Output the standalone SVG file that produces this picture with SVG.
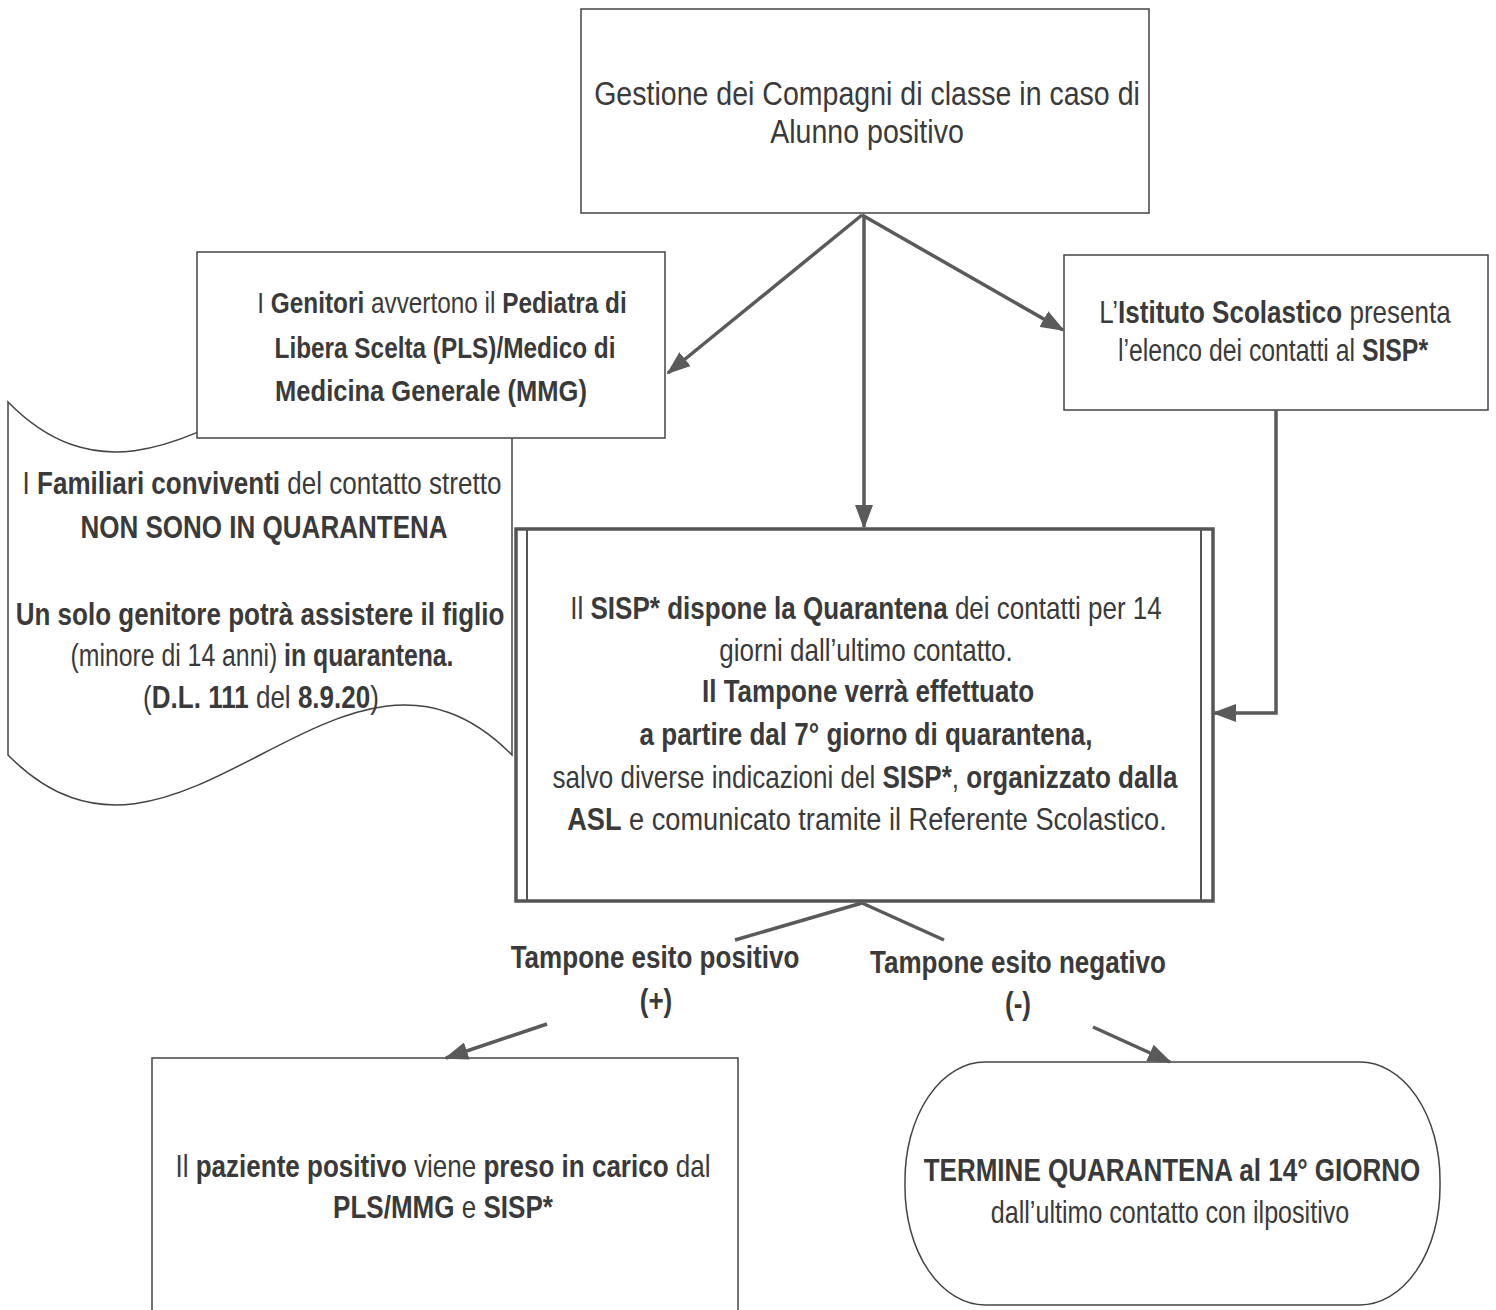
<svg xmlns="http://www.w3.org/2000/svg" width="1496" height="1310" viewBox="0 0 1496 1310">
<style>
.box{fill:#fff;stroke:#444;stroke-width:1.5}
.t{font-family:"Liberation Sans",Arial,sans-serif;font-size:31px;fill:#3a3a3a;text-anchor:middle}
.s{font-size:29px}
.l{font-size:34px}
.b{font-weight:bold}
.con{fill:none;stroke:#5a5a5a;stroke-width:3.5}
</style>
<defs>
<marker id="ah" markerUnits="userSpaceOnUse" markerWidth="24" markerHeight="18" refX="22" refY="9" orient="auto">
<path d="M0,0 L24,9 L0,18 Z" fill="#5a5a5a"/>
</marker>
</defs>
<rect width="1496" height="1310" fill="#fff"/>

<g id="doc-familiari">
<path class="box" d="M8,402 C178,575 342,229 512,402 L512,755 C342,582 178,928 8,755 Z"/>
<text class="t" transform="translate(262,494) scale(0.84,1)">I <tspan class="b">Familiari conviventi</tspan> del contatto stretto</text>
<text class="t b" transform="translate(264,538) scale(0.84,1)">NON SONO IN QUARANTENA</text>
<text class="t b" transform="translate(260,625) scale(0.84,1)">Un solo genitore potrà assistere il figlio</text>
<text class="t" transform="translate(262,666) scale(0.80,1)">(minore di 14 anni) <tspan class="b">in quarantena.</tspan></text>
<text class="t" transform="translate(261,708) scale(0.84,1)">(<tspan class="b">D.L. 111</tspan> del <tspan class="b">8.9.20</tspan>)</text>
</g>

<g id="node-top">
<rect class="box" x="581" y="9" width="568" height="204"/>
<text class="t l" transform="translate(867,105) scale(0.84,1)">Gestione dei Compagni di classe in caso di</text>
<text class="t l" transform="translate(867,143) scale(0.84,1)">Alunno positivo</text>
</g>

<g id="node-genitori">
<rect class="box" x="197" y="252" width="468" height="186"/>
<text class="t s" transform="translate(442,313) scale(0.84,1)">I <tspan class="b">Genitori</tspan> avvertono il <tspan class="b">Pediatra di</tspan></text>
<text class="t s b" transform="translate(445,358) scale(0.84,1)">Libera Scelta (PLS)/Medico di</text>
<text class="t s b" transform="translate(431,401) scale(0.88,1)">Medicina Generale (MMG)</text>
</g>

<g id="node-istituto">
<rect class="box" x="1064" y="255" width="424" height="155"/>
<text class="t" transform="translate(1275,323) scale(0.84,1)">L’<tspan class="b">Istituto Scolastico</tspan> presenta</text>
<text class="t" transform="translate(1273,361) scale(0.80,1)">l’elenco dei contatti al <tspan class="b">SISP*</tspan></text>
</g>

<g id="node-sisp">
<rect x="516" y="529" width="697" height="372" fill="#fff" stroke="#555" stroke-width="3.5"/>
<line x1="527" y1="530" x2="527" y2="900" stroke="#555" stroke-width="2"/>
<line x1="1201" y1="530" x2="1201" y2="900" stroke="#555" stroke-width="2"/>
<text class="t" transform="translate(866,619) scale(0.84,1)">Il <tspan class="b">SISP* dispone la Quarantena</tspan> dei contatti per 14</text>
<text class="t" transform="translate(866,661) scale(0.84,1)">giorni dall’ultimo contatto.</text>
<text class="t b" transform="translate(868,702) scale(0.84,1)">Il Tampone verrà effettuato</text>
<text class="t b" transform="translate(866,745) scale(0.84,1)">a partire dal 7° giorno di quarantena,</text>
<text class="t" transform="translate(865,788) scale(0.84,1)">salvo diverse indicazioni del <tspan class="b">SISP*</tspan>, <tspan class="b">organizzato dalla</tspan></text>
<text class="t" transform="translate(867,830) scale(0.877,1)"><tspan class="b">ASL</tspan> e comunicato tramite il Referente Scolastico.</text>
</g>

<g id="label-positivo">
<text class="t b" transform="translate(655,968) scale(0.84,1)">Tampone esito positivo</text>
<text class="t b" transform="translate(656,1011) scale(0.84,1)">(+)</text>
</g>
<g id="label-negativo">
<text class="t b" transform="translate(1018,973) scale(0.84,1)">Tampone esito negativo</text>
<text class="t b" transform="translate(1018,1014) scale(0.84,1)">(-)</text>
</g>

<g id="node-paziente">
<rect class="box" x="152" y="1058" width="586" height="262"/>
<text class="t" transform="translate(443,1177) scale(0.84,1)">Il <tspan class="b">paziente positivo</tspan> viene <tspan class="b">preso in carico</tspan> dal</text>
<text class="t" transform="translate(443,1218) scale(0.84,1)"><tspan class="b">PLS/MMG</tspan> e <tspan class="b">SISP*</tspan></text>
</g>

<g id="node-termine">
<rect class="box" x="905" y="1062" width="535" height="243" rx="80" ry="118"/>
<text class="t b" transform="translate(1172,1181) scale(0.84,1)">TERMINE QUARANTENA al 14° GIORNO</text>
<text class="t" transform="translate(1170,1223) scale(0.81,1)">dall’ultimo contatto con ilpositivo</text>
</g>

<g id="connectors">
<path class="con" d="M862,215 L668,373" marker-end="url(#ah)"/>
<path class="con" d="M862,215 L1063,330" marker-end="url(#ah)"/>
<path class="con" d="M864,215 L864,527" marker-end="url(#ah)"/>
<path class="con" d="M1276,410 L1276,713 L1214,713" marker-end="url(#ah)"/>
<path class="con" d="M862,903 L735,940"/>
<path class="con" d="M862,903 L944,940"/>
<path class="con" d="M547,1024 L446,1058" marker-end="url(#ah)"/>
<path class="con" d="M1093,1027 L1170,1062" marker-end="url(#ah)"/>
</g>
</svg>
